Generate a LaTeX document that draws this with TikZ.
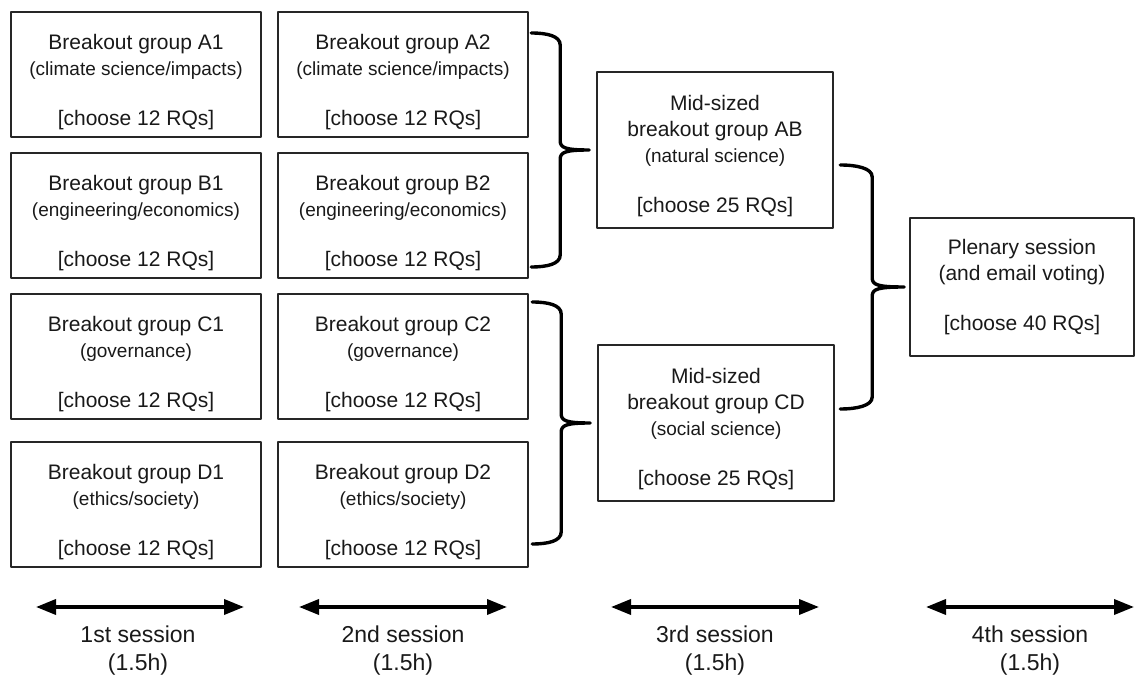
\documentclass[tikz,border=0pt]{standalone}
\usepackage{fontspec}
\setmainfont{Liberation Sans}
\usetikzlibrary{positioning,calc,arrows.meta}

\tikzset{
  grp/.style={draw=black!85, line width=0.8pt, minimum width=125pt, minimum height=62.5pt, align=center, inner sep=2pt},
  brc/.style={line width=1.7pt, line cap=round, line join=round},
  span/.style={{Triangle[length=10pt,width=7.5pt]}-{Triangle[length=10pt,width=7.5pt]}, line width=1.8pt},
  sess/.style={align=center, font=\fontsize{11.5}{14}\selectfont}
}
\newcommand{\topic}[1]{{\fontsize{9.5}{13}\selectfont #1}}
\newcommand{\drop}[1]{\rule{0pt}{#1}}
% brace: tip point, half height, depth
\newcommand{\grpbrace}[3]{%
  \begin{scope}[shift={(#1)}]
    \draw[brc] (-#3,-#2) .. controls (-#3+16,-#2) and (-#3/2,-#2+3) .. (-#3/2,-#2+12)
      -- (-#3/2,-9) .. controls (-#3/2,-2) and (-#3/2+6,0) .. (0,0)
      .. controls (-#3/2+6,0) and (-#3/2,2) .. (-#3/2,9)
      -- (-#3/2,#2-12) .. controls (-#3/2,#2-3) and (-#3+16,#2) .. (-#3,#2);
  \end{scope}}

\begin{document}
\begin{tikzpicture}[x=0.5pt, y=-0.5pt, font=\fontsize{10.5}{13}\selectfont, line join=round, text=black!90]
	\useasboundingbox (0,0) rectangle (1136,678);
	% 1st session
	\node[grp] (a1) at (136,74.5) {\drop{15.5pt}Breakout group A1\\\topic{(climate science/impacts)}\\[12pt]{[choose 12 RQs]}};
	\node[grp, below=7.2pt of a1] (b1) {\drop{15.5pt}Breakout group B1\\\topic{(engineering/economics)}\\[12pt]{[choose 12 RQs]}};
	\node[grp, below=7.2pt of b1] (c1) {\drop{15.5pt}Breakout group C1\\\topic{(governance)}\\[12pt]{[choose 12 RQs]}};
	\node[grp, below=10.7pt of c1] (d1) {\drop{15.5pt}Breakout group D1\\\topic{(ethics/society)}\\[12pt]{[choose 12 RQs]}};
	% 2nd session
	\node[grp, right=7.7pt of a1] (a2) {\drop{15.5pt}Breakout group A2\\\topic{(climate science/impacts)}\\[12pt]{[choose 12 RQs]}};
	\node[grp, right=7.7pt of b1] (b2) {\drop{15.5pt}Breakout group B2\\\topic{(engineering/economics)}\\[12pt]{[choose 12 RQs]}};
	\node[grp, right=7.7pt of c1] (c2) {\drop{15.5pt}Breakout group C2\\\topic{(governance)}\\[12pt]{[choose 12 RQs]}};
	\node[grp, right=7.7pt of d1] (d2) {\drop{15.5pt}Breakout group D2\\\topic{(ethics/society)}\\[12pt]{[choose 12 RQs]}};
	% 3rd and 4th session
	\node[grp, minimum width=118pt, minimum height=78pt] (ab) at (715,150) {\drop{13.5pt}Mid-sized\\breakout group AB\\\topic{(natural science)}\\[12pt]{[choose 25 RQs]}};
	\node[grp, minimum width=118pt, minimum height=78pt] (cd) at (716,423) {\drop{13.5pt}Mid-sized\\breakout group CD\\\topic{(social science)}\\[12pt]{[choose 25 RQs]}};
	\node[grp, minimum width=112pt, minimum height=69pt] (plen) at (1022,287) {Plenary session\\(and email voting)\\[12pt]{[choose 40 RQs]}};
	% braces
	\coordinate (abtip) at ($(ab.west)+(-7,0)$);
	\coordinate (cdtip) at ($(cd.west)+(-7,0)$);
	\coordinate (pltip) at ($(plen.west)+(-5,0)$);
	\grpbrace{abtip}{117}{58}
	\grpbrace{cdtip}{121}{58}
	\grpbrace{pltip}{122}{64}
	% time line
	\node[sess] (s1) at (138,651) {1st session\\(1.5h)};
	\node[sess] (s2) at (403,651) {2nd session\\(1.5h)};
	\node[sess] (s3) at (715,651) {3rd session\\(1.5h)};
	\node[sess] (s4) at (1030,651) {4th session\\(1.5h)};
	\coordinate (s1l) at ($(s1)+(-102,-44)$); \coordinate (s1r) at ($(s1)+(106,-44)$);
	\coordinate (s2l) at ($(s2)+(-104,-44)$); \coordinate (s2r) at ($(s2)+(104,-44)$);
	\coordinate (s3l) at ($(s3)+(-104,-44)$); \coordinate (s3r) at ($(s3)+(104,-44)$);
	\coordinate (s4l) at ($(s4)+(-104,-44)$); \coordinate (s4r) at ($(s4)+(104,-44)$);
	\draw[span] (s1l) -- (s1r);
	\draw[span] (s2l) -- (s2r);
	\draw[span] (s3l) -- (s3r);
	\draw[span] (s4l) -- (s4r);
\end{tikzpicture}
\end{document}
